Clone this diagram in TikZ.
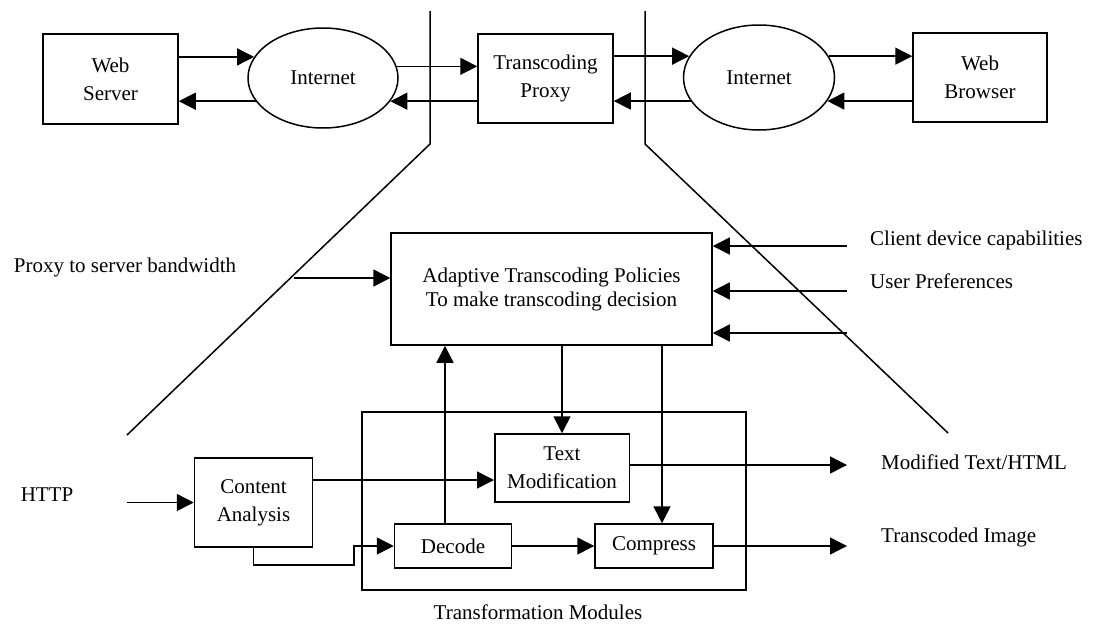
\documentclass[tikz,border=0pt]{standalone}
\usepackage{fontspec}
\setmainfont{Liberation Serif}
\usetikzlibrary{arrows.meta,shapes.geometric,calc}
\tikzset{
  box/.style={draw, line width=1.5pt, align=center, inner sep=0pt},
  oval/.style={draw, ellipse, line width=1.5pt, inner sep=0pt},
  arr/.style={line width=1.5pt, -{Triangle[length=17pt,width=17pt]}},
  ln/.style={line width=1.5pt},
  lbl/.style={inner sep=0pt},
}
\begin{document}
\begin{tikzpicture}[x=1pt,y=-1pt,font=\fontsize{21}{28}\selectfont]
\useasboundingbox (0,0) rectangle (1097,629);
% top row
\node[box, minimum width=135pt, minimum height=90pt] (ws) at (110.5,79) {Web\\Server};
\node[oval, minimum width=150pt, minimum height=100pt] (in1) at (323,78) {Internet};
\node[box, minimum width=135pt, minimum height=89pt] (px) at (545.5,78.5) {Transcoding\\Proxy};
\node[oval, minimum width=151pt, minimum height=105pt] (in2) at (759,77.5) {Internet};
\node[box, minimum width=134pt, minimum height=89pt] (wb) at (980,77.5) {Web\\Browser};

\draw[arr] (ws.east |- in1.163) -- (in1.163);
\draw[arr] (in1.199) -- (ws.east |- in1.199);
\draw[arr] (in1.9) -- (px.west |- in1.9);
\draw[arr] (px.west |- in1.-19) -- (in1.-19);
\draw[arr] (px.east |- in2.163) -- (in2.163);
\draw[arr] (in2.199) -- (px.east |- in2.199);
\draw[arr] (in2.17) -- (wb.west |- in2.17);
\draw[arr] (wb.west |- in2.-19) -- (in2.-19);

% divider lines
\draw[ln] (430,11) -- (430,144) -- (127,435);
\draw[ln] (645,11) -- (645,144) -- (948,433);

% middle
\node[box, minimum width=321pt, minimum height=112pt] (ad) at (551.5,289) {Adaptive Transcoding Policies\\[-4pt]To make transcoding decision};
\node[lbl] (psbl) at (125,267) {Proxy to server bandwidth};
\coordinate (psb) at (294,278);
\draw[arr] (psb) -- (ad.west |- psb);

\coordinate (r1) at (847,246);
\coordinate (r2) at (847,291);
\coordinate (r3) at (847,333);
\draw[arr] (r1) -- (ad.east |- r1);
\draw[arr] (r2) -- (ad.east |- r2);
\draw[arr] (r3) -- (ad.east |- r3);
\node[lbl, anchor=west] (cdc) at (870,240) {Client device capabilities};
\node[lbl, anchor=west] (up) at (870,281) {User Preferences};

% bottom
\node[box, minimum width=384pt, minimum height=178pt] (tm) at (554,501) {};
\node[lbl] (tml) at (538,612) {Transformation Modules};
\node[box, minimum width=134.5pt, minimum height=68pt] (tx) at (562,468) {Text\\Modification};
\node[box, minimum width=118pt, minimum height=89pt] (ca) at (253.5,502.5) {Content\\Analysis};
\node[box, minimum width=117pt, minimum height=44pt] (dec) at (453,546) {Decode};
\node[box, minimum width=118pt, minimum height=44pt] (cmp) at (654,546) {Compress};

\coordinate (d1) at (562,0);
\coordinate (d2) at (662,0);
\coordinate (u1) at (445,0);
\draw[arr] (ad.south -| d1) -- (tx.north -| d1);
\draw[arr] (ad.south -| d2) -- (cmp.north -| d2);
\draw[arr] (dec.north -| u1) -- (ad.south -| u1);

\node[lbl] (http) at (47,495) {HTTP};
\coordinate (hs) at (127,502.5);
\draw[arr] (hs) -- (ca.west);
\draw[arr] (ca.east |- 0,480) -- (tx.west |- 0,480);
\coordinate (k1) at (354,565);
\draw[arr] (ca.south) |- (k1) |- (dec.west);
\draw[arr] (dec.east) -- (cmp.west);

\coordinate (o1) at (847,465);
\coordinate (o2) at (847,546);
\draw[arr] (tx.east |- o1) -- (o1);
\draw[arr] (cmp.east) -- (o2);
\node[lbl, anchor=west] (mth) at (881,462) {Modified Text/HTML};
\node[lbl, anchor=west] (tci) at (881,537) {Transcoded Image};
\end{tikzpicture}
\end{document}
